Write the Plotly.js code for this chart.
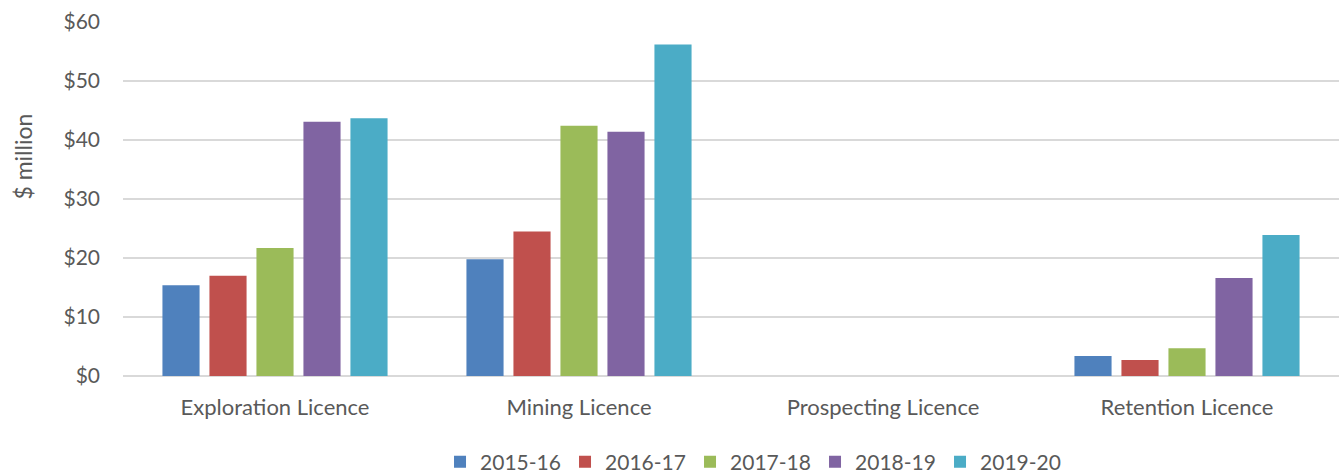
<!DOCTYPE html>
<html>
<head>
<meta charset="utf-8">
<script src="https://cdn.plot.ly/plotly-3.0.1.min.js"></script>
<style>
  html, body { margin: 0; padding: 0; background: #fff; }
  #chart { width: 1339px; height: 474px; }
</style>
</head>
<body>
<div id="chart"></div>
<script>
'use strict';

const categories = ['Exploration Licence', 'Mining Licence', 'Prospecting Licence', 'Retention Licence'];
const years = ['2015-16', '2016-17', '2017-18', '2018-19', '2019-20'];

// $ million per licence type, one array per financial year
const fy1516 = [15.4, 19.8, 0, 3.4];
const fy1617 = [17.0, 24.5, 0, 2.7];
const fy1718 = [21.7, 42.4, 0, 4.7];
const fy1819 = [43.1, 41.4, 0, 16.6];
const fy1920 = [43.7, 56.2, 0, 23.9];

const colors = ['#4F81BD', '#C0504D', '#9BBB59', '#8064A2', '#4BACC6'];
const series = [fy1516, fy1617, fy1718, fy1819, fy1920];

const FONT = 'Lato, "Open Sans", sans-serif';

const data = series.map((vals, i) => ({
  x: categories,
  y: vals,
  name: years[i],
  type: 'bar',
  marker: { color: colors[i] },
  hoverinfo: 'x+y+name'
}));

const layout = {
  width: 1339,
  height: 474,
  margin: { l: 123, r: 0, t: 22, b: 98, autoexpand: false },
  paper_bgcolor: '#fff',
  plot_bgcolor: '#fff',
  font: { family: FONT, size: 21, color: '#595959' },
  bargap: 0.227,
  bargroupgap: 0.21,
  showlegend: true,
  legend: {
    orientation: 'h',
    xref: 'container',
    yref: 'container',
    x: 0.562,
    xanchor: 'center',
    y: 0.025,
    yanchor: 'middle',
    font: { size: 21, color: '#595959' },
    itemwidth: 30,
    entrywidth: 80,
    entrywidthmode: 'pixels',
    tracegroupgap: 0
  },
  xaxis: {
    showgrid: false,
    showline: false,
    zeroline: false,
    ticks: '',
    ticklabelstandoff: 16,
    tickfont: { size: 22 },
    automargin: false,
    fixedrange: true
  },
  yaxis: {
    range: [0, 60],
    dtick: 10,
    tickprefix: '$',
    showgrid: true,
    gridcolor: '#D9D9D9',
    gridwidth: 1.5,
    zeroline: true,
    zerolinecolor: '#D9D9D9',
    zerolinewidth: 1.5,
    showline: false,
    ticks: '',
    ticklabelstandoff: 22,
    automargin: false,
    fixedrange: true
  },
  annotations: [{
    text: '$ million',
    xref: 'paper',
    yref: 'paper',
    x: -0.083,
    y: 0.62,
    xanchor: 'center',
    yanchor: 'middle',
    textangle: -90,
    showarrow: false,
    font: { size: 23, color: '#595959' }
  }]
};

Plotly.newPlot('chart', data, layout, { displayModeBar: false, staticPlot: true });
</script>
</body>
</html>
